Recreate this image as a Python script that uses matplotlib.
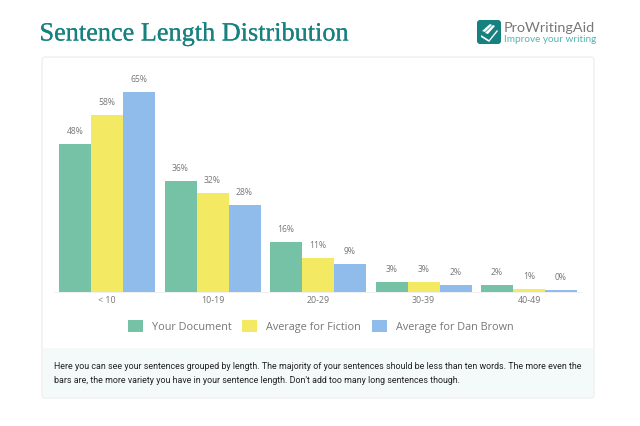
import matplotlib
matplotlib.use("Agg")
import matplotlib.pyplot as plt
import matplotlib.patheffects as pe
from matplotlib.patches import FancyBboxPatch, Rectangle, Polygon
import numpy as np

categories = ["< 10", "10-19", "20-29", "30-39", "40-49"]
your_document = [48, 36, 16, 3, 2]
avg_fiction = [57.5, 32, 11, 3, 1]
avg_dan_brown = [65, 28, 9, 2, 0.4]
value_labels_doc = ["48%", "36%", "16%", "3%", "2%"]
value_labels_fic = ["58%", "32%", "11%", "3%", "1%"]
value_labels_dan = ["65%", "28%", "9%", "2%", "0%"]
series_names = ["Your Document", "Average for Fiction", "Average for Dan Brown"]
colors = ["#76c2a6", "#f3e963", "#90bcec"]
note = ("Here you can see your sentences grouped by length. The majority of your sentences should be less than ten words. The more even the\n"
        "bars are, the more variety you have in your sentence length. Don't add too many long sentences though.")

W, H = 640, 427
fig = plt.figure(figsize=(W / 100, H / 100), dpi=100, facecolor="white")

bg = fig.add_axes([0, 0, 1, 1], zorder=0)
bg.set_xlim(0, W)
bg.set_ylim(H, 0)
bg.axis("off")

# card and footer
bg.add_patch(FancyBboxPatch((42, 58), 552, 341, boxstyle="round,pad=0,rounding_size=3",
                            fc="white", ec="#efefef", lw=1))
bg.add_patch(Rectangle((43, 349), 550, 49, fc="#f4f9f9", ec="none"))
bg.text(54, 373.5, note, fontsize=6.42, family="Roboto", color="#222222",
        va="center", ha="left", linespacing=1.85)

# title
title = bg.text(39.5, 35.5, "Sentence Length Distribution", fontsize=18.9,
                family="Liberation Serif", color="#16817f", va="center", ha="left")
title.set_path_effects([pe.withStroke(linewidth=0.12, foreground="#16817f")])

# logo
bg.add_patch(FancyBboxPatch((477, 21), 24, 24, boxstyle="round,pad=0,rounding_size=3",
                            fc="#16817f", ec="none"))
for pts in ([(482, 32), (490, 25), (492, 26), (485, 33)],
            [(485, 34), (493, 26), (495, 27), (488, 35)],
            [(481, 36), (489, 41), (497, 31), (498, 32), (489, 43), (481, 38)]):
    bg.add_patch(Polygon(pts, closed=True, fc="white", ec="none"))
bg.text(504, 28, "ProWritingAid", fontsize=10.4, family="Lato", color="#777777", va="center", ha="left")
bg.text(504, 40, "Improve your writing", fontsize=7.2, family="Lato", color="#55b5b5", va="center", ha="left")

# chart
left, right, top, bottom = 54.25, 581.75, 72, 292.6
ax = fig.add_axes([left / W, 1 - bottom / H, (right - left) / W, (bottom - top) / H],
                  zorder=1, facecolor="none")
x = np.arange(len(categories))
bar_w = 32 / 105.5
series = [your_document, avg_fiction, avg_dan_brown]
labels = [value_labels_doc, value_labels_fic, value_labels_dan]
for i, (vals, labs) in enumerate(zip(series, labels)):
    bars = ax.bar(x + (i - 1) * bar_w, vals, bar_w, color=colors[i], label=series_names[i])
    for b, lab in zip(bars, labs):
        ax.annotate(lab, (b.get_x() + b.get_width() / 2, b.get_height()), xytext=(0, 9),
                    textcoords="offset pixels", ha="center", va="bottom",
                    fontsize=6.2, family="Open Sans", color="#777777")

ax.set_xlim(-0.5, len(categories) - 0.5)
ax.set_ylim(0, (bottom - top) / 3.077)
ax.set_xticks(x, categories)
ax.set_yticks([])
ax.tick_params(axis="x", length=0, pad=2.5, labelsize=6.4, labelcolor="#777777")
for t in ax.get_xticklabels():
    t.set_family("Open Sans")
for s in ("top", "left", "right"):
    ax.spines[s].set_visible(False)
ax.spines["bottom"].set_color("#eeeeee")
ax.spines["bottom"].set_linewidth(0.6)

leg = ax.legend(loc="center", bbox_to_anchor=(320.5 / W, 1 - 327 / H),
                bbox_transform=fig.transFigure, ncol=3, frameon=False,
                prop={"family": "Open Sans", "size": 7.8},
                handlelength=1.4, handleheight=1.4, handletextpad=0.8,
                columnspacing=1.0, labelcolor="#777777", borderpad=0)

fig.savefig("out.png", dpi=100, facecolor="white")
